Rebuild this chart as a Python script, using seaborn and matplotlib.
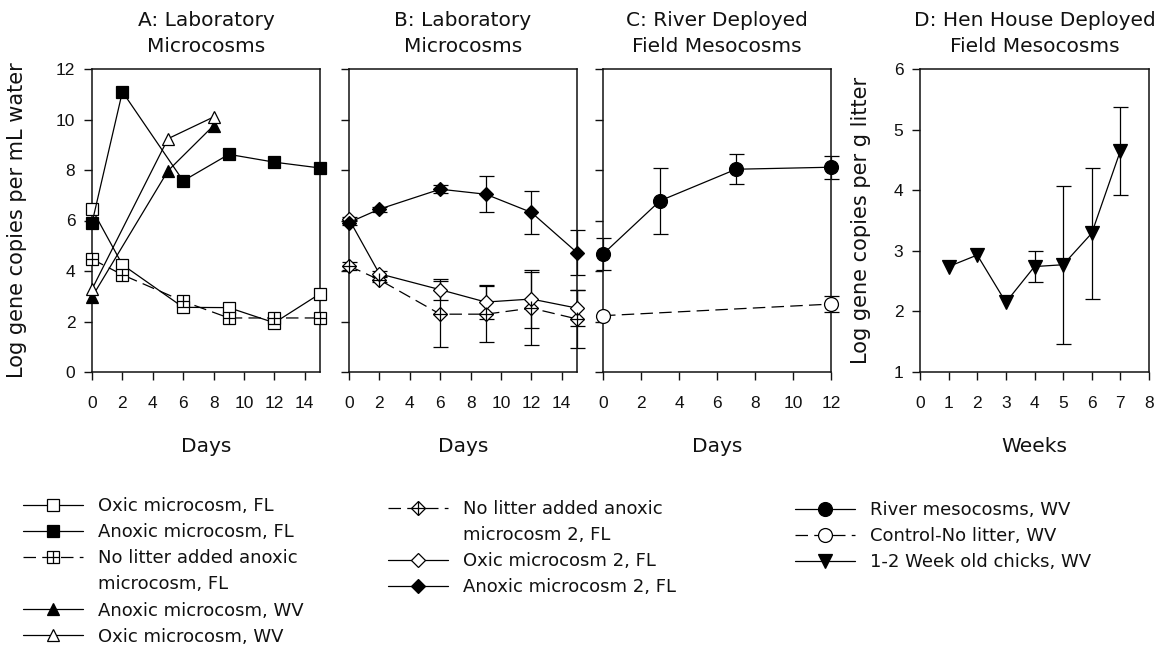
import numpy as np
import matplotlib
matplotlib.use("Agg")
import matplotlib.pyplot as plt
from matplotlib.lines import Line2D
import seaborn as sns

# ---- data ----
# Panel A: laboratory microcosms (FL sampled on days 0,2,6,9,12,15; WV on 0,5,8)
days_a_fl = [0, 2, 6, 9, 12, 15]
oxic_fl = [6.45, 4.25, 2.56, 2.55, 1.95, 3.10]
anoxic_fl = [5.90, 11.10, 7.57, 8.62, 8.31, 8.08]
nolitter_fl = [4.47, 3.85, 2.80, 2.14, 2.14, 2.14]
days_a_wv = [0, 5, 8]
anoxic_wv = [2.97, 7.97, 9.76]
oxic_wv = [3.28, 9.24, 10.10]

# Panel B: laboratory microcosms, second run (mean and error)
days_b = [0, 2, 6, 9, 12, 15]
nolitter2 = [4.20, 3.65, 2.29, 2.29, 2.53, 2.10]
nolitter2_err = [0.15, 0.10, 1.30, 1.12, 1.45, 1.15]
oxic2 = [6.05, 3.89, 3.26, 2.77, 2.89, 2.53]
oxic2_err = [0.08, 0.10, 0.42, 0.68, 1.16, 0.70]
anoxic2 = [5.92, 6.45, 7.24, 7.04, 6.32, 4.73]
anoxic2_err = [0.10, 0.10, 0.17, 0.72, 0.86, 0.90]

# Panel C: river deployed field mesocosms
days_c_river = [0, 3, 7, 12]
river = [4.67, 6.78, 8.03, 8.11]
river_err = [0.65, 1.30, 0.60, 0.45]
days_c_ctrl = [0, 12]
control = [2.23, 2.69]
control_err = [0.0, 0.31]

# Panel D: hen house deployed field mesocosms
weeks_d = [1, 2, 3, 4, 5, 6, 7]
chicks = [2.74, 2.93, 2.15, 2.74, 2.77, 3.29, 4.65]
chicks_err = [0.0, 0.0, 0.0, 0.26, 1.30, 1.08, 0.73]

titles = ["A: Laboratory\nMicrocosms", "B: Laboratory\nMicrocosms",
          "C: River Deployed\nField Mesocosms", "D: Hen House Deployed\nField Mesocosms"]
ticks_days15 = [0, 2, 4, 6, 8, 10, 12, 14]
ticks_days12 = [0, 2, 4, 6, 8, 10, 12]
ticks_weeks = [0, 1, 2, 3, 4, 5, 6, 7, 8]

sns.set_style("ticks")
# the original text is a widely tracked Arial; DejaVu Sans is closer in width
plt.rcParams['font.family'] = ['DejaVu Sans']
plt.rcParams['text.color'] = '#111111'
plt.rcParams['axes.labelcolor'] = '#111111'
plt.rcParams['xtick.color'] = '#111111'
plt.rcParams['ytick.color'] = '#111111'

W, H = 1171, 650
fig = plt.figure(figsize=(W / 100, H / 100), dpi=100)
fig.patch.set_facecolor('white')


def px_axes(left, right, top=69, bottom=372):
    return fig.add_axes([left / W, 1 - bottom / H, (right - left) / W, (bottom - top) / H])


axA = px_axes(92, 320)
axB = px_axes(349, 577)
axC = px_axes(603, 831)
axD = px_axes(920, 1149)

DASH = (0, (10, 5))


def draw(ax, x, y, marker, face, ms, dashed=False, cross=None, err=None):
    ls = DASH if dashed else '-'
    sns.lineplot(x=x, y=y, ax=ax, color='black', linewidth=0.9, linestyle=ls,
                 marker=marker, markersize=ms, markerfacecolor=face,
                 markeredgecolor='black', markeredgewidth=0.9,
                 clip_on=False, zorder=3, errorbar=None)
    handle = ax.lines[-1]
    if cross is not None:
        sns.lineplot(x=x, y=y, ax=ax, color='black', linestyle='none',
                     marker='+', markersize=cross, markeredgecolor='black',
                     markeredgewidth=0.9, clip_on=False, zorder=4, errorbar=None)
        handle = (handle, ax.lines[-1])
    if err is not None:
        e = np.asarray(err)
        keep = e > 0
        ax.errorbar(np.asarray(x)[keep], np.asarray(y)[keep], yerr=e[keep], fmt='none',
                    ecolor='black', elinewidth=0.9, capsize=5.4, capthick=0.9,
                    zorder=2, clip_on=False)
    return handle


# empty handle: used for the second line of a wrapped legend label
blank = Line2D([], [], linestyle='none', marker=None)

# Panel A
hA = [
    draw(axA, days_a_fl, oxic_fl, 's', 'white', 8.5),
    draw(axA, days_a_fl, anoxic_fl, 's', 'black', 8.5),
    draw(axA, days_a_fl, nolitter_fl, 's', 'white', 8.5, dashed=True, cross=8.5),
    blank,
    draw(axA, days_a_wv, anoxic_wv, '^', 'black', 9),
    draw(axA, days_a_wv, oxic_wv, '^', 'white', 9),
]
labA = ["Oxic microcosm, FL", "Anoxic microcosm, FL",
        "No litter added anoxic", "microcosm, FL", "Anoxic microcosm, WV", "Oxic microcosm, WV"]

# Panel B
hB = [
    draw(axB, days_b, nolitter2, 'D', 'white', 7.5, dashed=True, cross=10.6, err=nolitter2_err),
    blank,
    draw(axB, days_b, oxic2, 'D', 'white', 7.5, err=oxic2_err),
    draw(axB, days_b, anoxic2, 'D', 'black', 7.5, err=anoxic2_err),
]
labB = ["No litter added anoxic", "microcosm 2, FL", "Oxic microcosm 2, FL", "Anoxic microcosm 2, FL"]

# Panel C
hC = [
    draw(axC, days_c_river, river, 'o', 'black', 10, err=river_err),
    draw(axC, days_c_ctrl, control, 'o', 'white', 10, dashed=True, err=control_err),
]
# Panel D
hD = [draw(axD, weeks_d, chicks, 'v', 'black', 9.5, err=chicks_err)]
labCD = ["River mesocosms, WV", "Control-No litter, WV", "1-2 Week old chicks, WV"]

# axes cosmetics
for ax, title in zip([axA, axB, axC, axD], titles):
    for s in ax.spines.values():
        s.set_linewidth(1.1)
        s.set_color('#111111')
        s.set_visible(True)
    ax.tick_params(direction='out', length=6, width=1.0, labelsize=12.5, pad=11,
                   top=False, right=False)
    ax.tick_params(axis='y', pad=6)
    ax.set_title(title, fontsize=14.5, pad=12, linespacing=1.5)
    ax.set_xlabel("Days", fontsize=14.5, va='top')
    ax.xaxis.set_label_coords(0.5, -0.215)
    ax.set_ylabel("")

for ax in [axA, axB]:
    ax.set_xlim(0, 15)
    ax.set_xticks(ticks_days15)
for ax in [axA, axB, axC]:
    ax.set_ylim(0, 12)
    ax.set_yticks(range(0, 13, 2))
axC.set_xlim(0, 12)
axC.set_xticks(ticks_days12)
axB.tick_params(axis='y', labelleft=False)
axC.tick_params(axis='y', labelleft=False)

axD.set_xlim(0, 8)
axD.set_xticks(ticks_weeks)
axD.set_ylim(1, 6)
axD.set_yticks(range(1, 7))
axD.set_xlabel("Weeks", fontsize=14.5, va='top')
axD.xaxis.set_label_coords(0.5, -0.215)

# tick numbers are plain Arial-like digits
for ax in [axA, axB, axC, axD]:
    for t in ax.get_xticklabels() + ax.get_yticklabels():
        t.set_fontfamily(['Liberation Sans', 'DejaVu Sans'])

axA.set_ylabel("Log gene copies per mL water", fontsize=15)
axA.yaxis.set_label_coords(-0.285, 0.5)
axD.set_ylabel("Log gene copies per g litter", fontsize=15)
axD.yaxis.set_label_coords(-0.214, 0.5)

# legends under the panels
leg_kw = dict(loc='upper left', frameon=False, fontsize=13, handlelength=3.3,
              handletextpad=0.85, labelspacing=0.45, borderpad=0, borderaxespad=0)
fig.legend(hA, labA, bbox_to_anchor=(23 / W, 1 - 497 / H), **leg_kw)
fig.legend(hB, labB, bbox_to_anchor=(388 / W, 1 - 500 / H), **leg_kw)
fig.legend(hC + hD, labCD, bbox_to_anchor=(795 / W, 1 - 501 / H), **leg_kw)

fig.savefig("out.png", dpi=100, facecolor='white')
